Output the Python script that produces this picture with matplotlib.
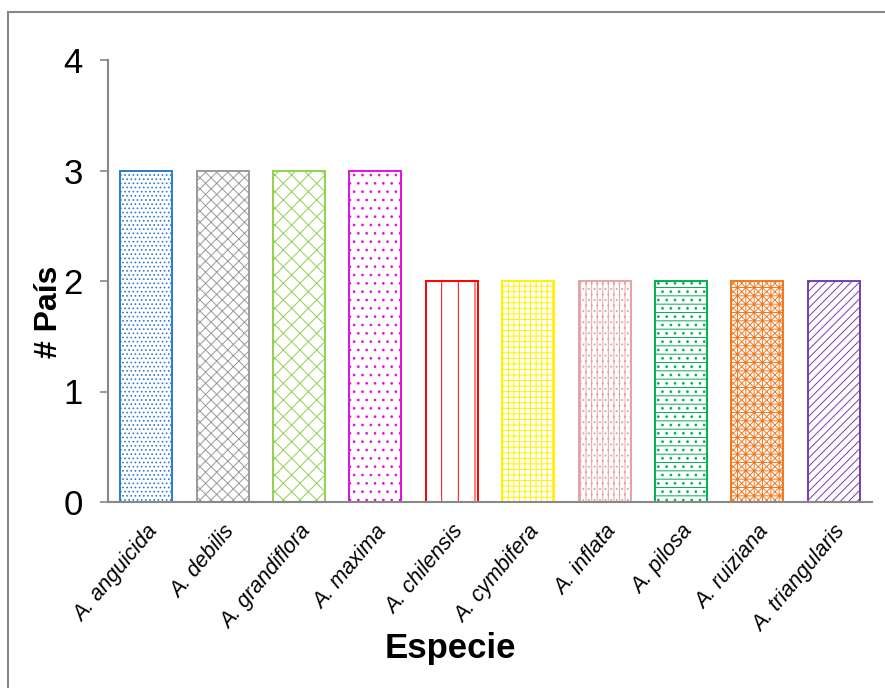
import matplotlib.pyplot as plt
from matplotlib.patches import Rectangle

especies = ["A. anguicida", "A. debilis", "A. grandiflora", "A. maxima",
            "A. chilensis", "A. cymbifera", "A. inflata", "A. pilosa",
            "A. ruiziana", "A. triangularis"]
paises = [3, 3, 3, 3, 2, 2, 2, 2, 2, 2]

colores = ["#2B7BD2", "#9A9A9A", "#92D050", "#E010E0", "#FF0000",
           "#FFF200", "#E6A3A3", "#00B050", "#F07820", "#7A3CB0"]
tramas = ["....", "xxx", "xx", "..", "|", "+++", "|||...", "--..", "xxxx++", "////"]

plt.rcParams['font.family'] = ['Liberation Sans', 'DejaVu Sans']
plt.rcParams['hatch.linewidth'] = 0.7

fig = plt.figure(figsize=(8.85, 6.88), dpi=100)
ax = fig.add_axes([108 / 885, 1 - 502 / 688, 764 / 885, 442 / 688])

x = range(len(especies))
bars = ax.bar(x, paises, width=0.68, color="white", linewidth=1.4)
for b, c, h in zip(bars, colores, tramas):
    b.set_edgecolor(c)
    b.set_hatch(h)

ax.set_xlim(-0.5, len(especies) - 0.5)
ax.set_ylim(0, 4)
ax.set_yticks([0, 1, 2, 3, 4])
ax.tick_params(axis='y', labelsize=25, length=6, width=1.2, color="#888888", pad=12)
ax.tick_params(axis='x', length=0, pad=14)

ax.set_xticks(list(x))
ax.set_xticklabels(especies, rotation=50, ha='right', va='top',
                   rotation_mode='anchor', fontsize=15.5, style='italic')

for s in ["top", "right"]:
    ax.spines[s].set_visible(False)
for s in ["left", "bottom"]:
    ax.spines[s].set_color("#888888")
    ax.spines[s].set_linewidth(1.5)

ax.set_ylabel("# País", fontsize=23, fontweight='bold')
ax.yaxis.set_label_coords(-0.058, 0.43)
ax.set_xlabel("Especie", fontsize=25, fontweight='bold')
ax.xaxis.set_label_coords(0.448, -0.295)

# marco exterior del gráfico
fig.patches.append(Rectangle((8 / 885, -0.1), 1.2, 1.1 - 12 / 688,
                             transform=fig.transFigure, fill=False,
                             edgecolor="#888888", linewidth=1.5))

fig.savefig("out.png", dpi=100)
